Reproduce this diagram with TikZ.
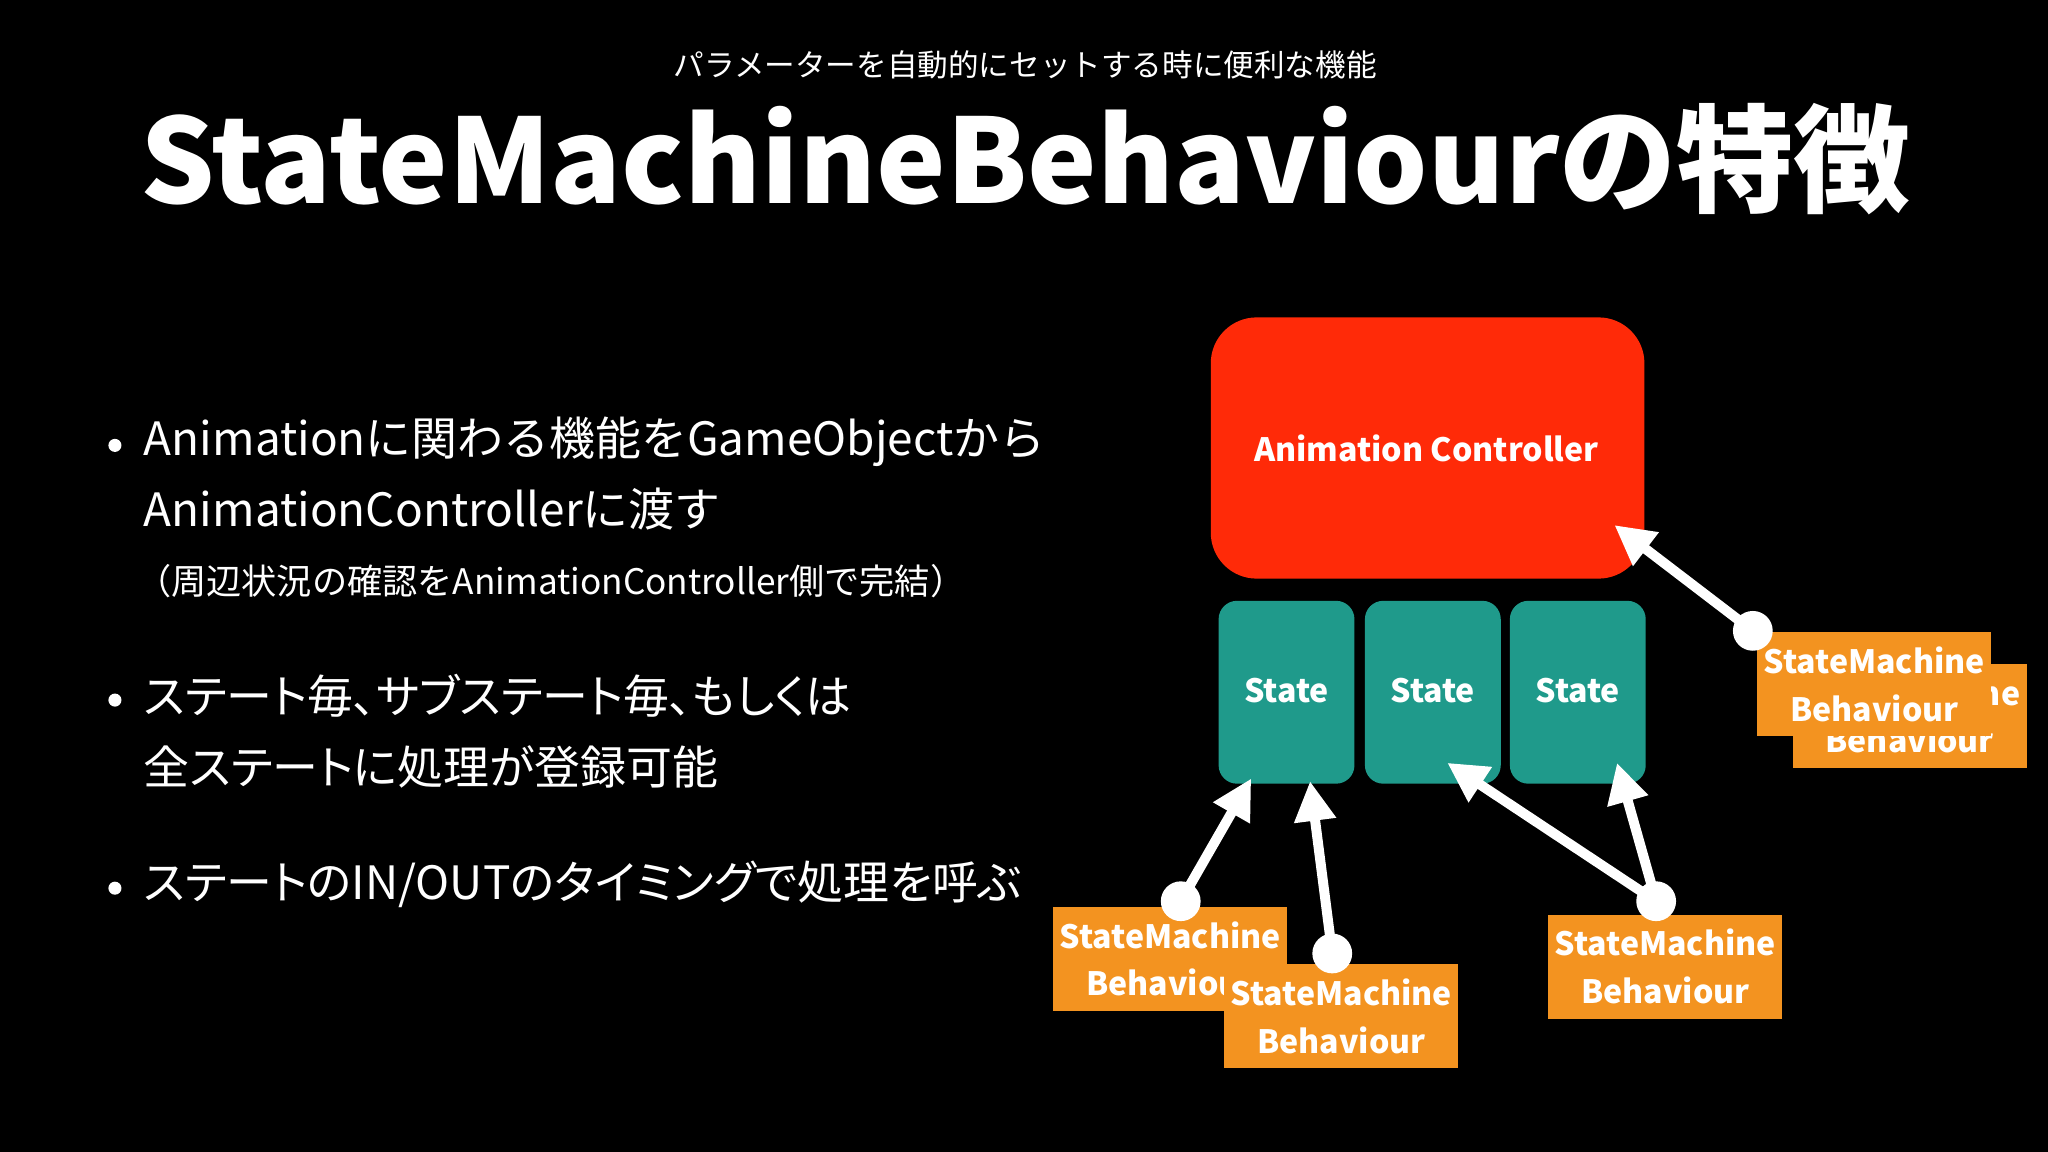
\documentclass[tikz,border=0pt]{standalone}
\usepackage{fontspec}
\setmainfont{Noto Sans CJK JP}
\newfontfamily\paltfont[RawFeature=+palt]{Noto Sans CJK JP}
\usetikzlibrary{arrows.meta}
\definecolor{redbox}{HTML}{FF2A08}
\definecolor{teal2}{HTML}{1F9A8B}
\definecolor{orng}{HTML}{F39320}
\begin{document}
\begin{tikzpicture}[x=0.3mm,y=-0.3mm,
  txt/.style={text=white,anchor=west,inner sep=0},
  st/.style={fill=teal2,rounded corners=12pt},
  ob/.style={fill=orng,text=white,font=\fontsize{21}{31}\selectfont\bfseries,align=center},
  arr/.style={draw=white,line width=6.5pt,-{Triangle[length=26pt,width=26pt]}},
  dot/.style={circle,fill=white,minimum size=26pt,inner sep=0}]
\fill[black] (0,0) rectangle (1568,882);
\useasboundingbox (0,0) rectangle (1568,882);
\node[text=white,font=\fontsize{20}{24}\selectfont] (sub) at (785,50) {パラメーターを自動的にセットする時に便利な機能};
\node[text=white,font=\fontsize{76.5}{90}\selectfont\bfseries] (title) at (785,122) {StateMachineBehaviourの特徴};
\foreach \y in {338,533,677} \fill[white] (88,\y+3) circle (5);
\tikzset{bt/.style={txt,font=\fontsize{30}{34}\selectfont},
  pt/.style={txt,font=\paltfont\fontsize{30}{34}\selectfont}}
\node[bt] (l1) at (110,338) {Animationに関わる機能をGameObjectから};
\node[bt] (l2) at (110,390) {AnimationControllerに渡す};
\node[txt,font=\fontsize{23}{28}\selectfont] (l3) at (104,445) {（周辺状況の確認をAnimationController側で完結）};
\node[pt] (l4) at (110,533) {ステート毎、サブステート毎、もしくは};
\node[pt] (l5) at (110,587) {全ステートに処理が登録可能};
\node[pt] (l6) at (110,677) {ステートのIN/OUTのタイミングで処理を呼ぶ};
\fill[redbox,rounded corners=30pt] (927,243) rectangle (1259,443);
\node[text=white,font=\fontsize{21}{26}\selectfont\bfseries] (ac) at (1092,343) {Animation Controller};
\fill[st] (933,460) rectangle (1037,600);
\fill[st] (1045,460) rectangle (1149,600);
\fill[st] (1156,460) rectangle (1260,600);
\foreach \x/\n in {985/s1,1097/s2,1208/s3}
  \node[text=white,font=\fontsize{21}{26}\selectfont\bfseries] (\n) at (\x,529) {State};
\node[ob,minimum width=153pt,minimum height=68pt] (oa) at (896,734) {StateMachine\\Behaviour};
\node[ob,minimum width=153pt,minimum height=68pt] (ob) at (1027,778) {StateMachine\\Behaviour};
\node[ob,minimum width=153pt,minimum height=68pt] (oc) at (1275,740) {StateMachine\\Behaviour};
\node[ob,minimum width=153pt,minimum height=68pt] (od) at (1462,548) {StateMachine\\Behaviour};
\node[ob,minimum width=153pt,minimum height=68pt] (oe) at (1435,524) {StateMachine\\Behaviour};
\coordinate (c1) at (904,690); \coordinate (c2) at (1020,730);
\coordinate (c3) at (1268,690); \coordinate (c4) at (1342,483);
\coordinate (t1) at (958,596); \coordinate (t2) at (1003,598);
\coordinate (t3) at (1108,584); \coordinate (t4) at (1238,584);
\coordinate (t5) at (1236,402);
\draw[arr] (c1) -- (t1);
\draw[arr] (c2) -- (t2);
\draw[arr] (c3) -- (t3);
\draw[arr] (c3) -- (t4);
\draw[arr] (c4) -- (t5);
\foreach \c in {c1,c2,c3,c4} \node[dot] at (\c) {};
\end{tikzpicture}
\end{document}
